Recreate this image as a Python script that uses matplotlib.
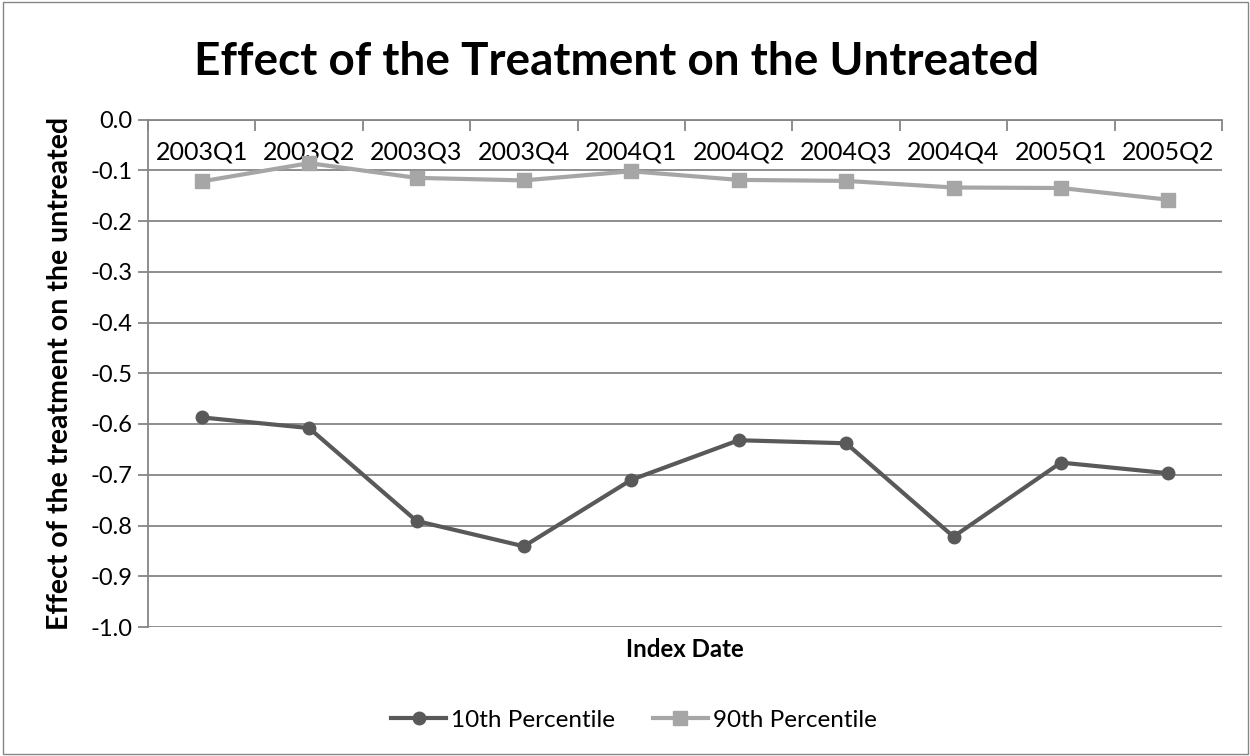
import matplotlib
matplotlib.use("Agg")
import matplotlib.pyplot as plt
from matplotlib.patches import Rectangle
from matplotlib.lines import Line2D
import numpy as np

plt.rcParams['font.family'] = ['Lato', 'DejaVu Sans']

categories = ["2003Q1", "2003Q2", "2003Q3", "2003Q4", "2004Q1",
              "2004Q2", "2004Q3", "2004Q4", "2005Q1", "2005Q2"]
p10 = [-0.587, -0.608, -0.791, -0.841, -0.710,
       -0.632, -0.638, -0.822, -0.676, -0.697]
p90 = [-0.122, -0.086, -0.115, -0.120, -0.102,
       -0.119, -0.121, -0.134, -0.135, -0.158]
y_ticks = [0.0, -0.1, -0.2, -0.3, -0.4, -0.5, -0.6, -0.7, -0.8, -0.9, -1.0]

dark = "#595959"
light = "#A6A6A6"
grid_c = "#868686"

fig = plt.figure(figsize=(12.5, 7.56), dpi=100)
fig.patches.append(Rectangle((0.002, 0.003), 0.996, 0.994, transform=fig.transFigure,
                             fill=False, edgecolor="#868686", linewidth=1.0))

ax = fig.add_axes([148 / 1250, 1 - 627 / 756, (1222 - 148) / 1250, (627 - 119.5) / 756])
x = np.arange(len(categories))

ax.set_xlim(-0.5, len(categories) - 0.5)
ax.set_ylim(-1.0, 0.0)

# horizontal gridlines
for yv in y_ticks:
    ax.axhline(yv, color=grid_c, linewidth=1.3, zorder=1)

for s in ["right", "bottom"]:
    ax.spines[s].set_visible(False)
for s in ["left", "top"]:
    ax.spines[s].set_color(grid_c)
    ax.spines[s].set_linewidth(1.3)

ax.set_yticks(y_ticks)
ax.set_yticklabels([f"{v:.1f}" for v in y_ticks], fontsize=17)
ax.tick_params(axis="y", length=7, width=1.3, color=grid_c, pad=4)

# category boundaries carry the tick marks on the top axis
ax.xaxis.tick_top()
ax.set_xticks(np.arange(-0.5, len(categories), 1.0))
ax.set_xticklabels([])
ax.tick_params(axis="x", direction="in", length=8, width=1.3, color=grid_c)

for xi, lab in zip(x, categories):
    ax.text(xi, 0.935, lab, transform=ax.get_xaxis_transform(),
            ha="center", va="center", fontsize=18, zorder=2)

ax.plot(x, p90, color=light, linewidth=3, marker="s", markersize=10.5,
        zorder=4, label="90th Percentile")
ax.plot(x, p10, color=dark, linewidth=3, marker="o", markersize=9,
        zorder=5, label="10th Percentile")

ax.set_ylabel("Effect of the treatment on the untreated", fontsize=20.5,
              fontweight="bold")
ax.yaxis.set_label_coords(-0.070, 0.5)
ax.text(0.5, -0.045, "Index Date", transform=ax.transAxes, ha="center",
        va="center", fontsize=17.3, fontweight="bold")

fig.text(617 / 1250, 1 - 62 / 756, "Effect of the Treatment on the Untreated",
         ha="center", va="center", fontsize=33, fontweight="bold")

handles = [Line2D([], [], color=dark, linewidth=3, marker="o", markersize=9),
           Line2D([], [], color=light, linewidth=3, marker="s", markersize=10.5)]
fig.legend(handles, ["10th Percentile", "90th Percentile"], loc="center",
           bbox_to_anchor=(634 / 1250, 1 - 720 / 756), ncol=2, frameon=False,
           fontsize=17.5, handlelength=2.26, columnspacing=1.56, handletextpad=0.2)

fig.savefig("out.png", dpi=100)
